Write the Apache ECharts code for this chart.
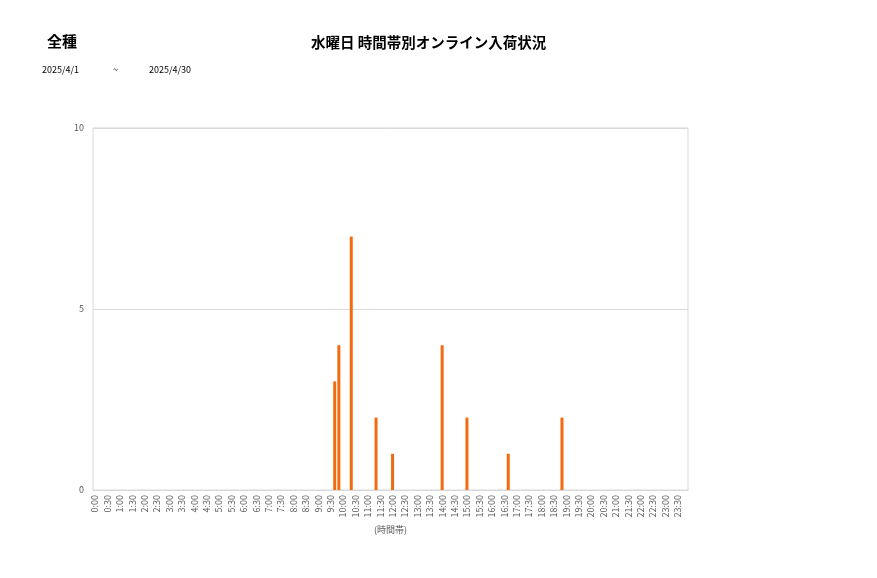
<!DOCTYPE html>
<html>
<head>
<meta charset="utf-8">
<script src="https://cdn.jsdelivr.net/npm/echarts@6/dist/echarts.min.js"></script>
<style>
html,body{margin:0;padding:0;background:#fff;}
#c{width:877px;height:578px;}
</style>
</head>
<body>
<div id="c"></div>
<script>
// Text
const chartTitle = '水曜日 時間帯別オンライン入荷状況';
const kindLabel = '全種';
const dateFrom = '2025/4/1';
const dateSep = '~';
const dateTo = '2025/4/30';
const xAxisName = '(時間帯)';

// 10-minute categories, 0:00 .. 23:50
const timeSlots = [];
for (let h = 0; h < 24; h++) {
  for (let m = 0; m < 60; m += 10) {
    timeSlots.push(h + ':' + (m === 0 ? '00' : String(m)));
  }
}

// counts per 10-minute slot (12 per row = 2 hours)
const counts = [
  0,0,0,0,0,0,0,0,0,0,0,0,   // 0:00-1:50
  0,0,0,0,0,0,0,0,0,0,0,0,   // 2:00-3:50
  0,0,0,0,0,0,0,0,0,0,0,0,   // 4:00-5:50
  0,0,0,0,0,0,0,0,0,0,0,0,   // 6:00-7:50
  0,0,0,0,0,0,0,0,0,0,3,4,   // 8:00-9:50
  0,0,7,0,0,0,0,0,2,0,0,0,   // 10:00-11:50
  1,0,0,0,0,0,0,0,0,0,0,0,   // 12:00-13:50
  4,0,0,0,0,0,2,0,0,0,0,0,   // 14:00-15:50
  0,0,0,0,1,0,0,0,0,0,0,0,   // 16:00-17:50
  0,0,0,0,0,2,0,0,0,0,0,0,   // 18:00-19:50
  0,0,0,0,0,0,0,0,0,0,0,0,   // 20:00-21:50
  0,0,0,0,0,0,0,0,0,0,0,0    // 22:00-23:50
];

const yMin = 0, yMax = 10, yStep = 5;

const chart = echarts.init(document.getElementById('c'));
const jp = '"Noto Sans CJK JP", "Noto Sans", sans-serif';
chart.setOption({
  backgroundColor: '#ffffff',
  animation: false,
  textStyle: { fontFamily: jp },
  graphic: [
    { type: 'text', left: 311, top: 35, style: { text: chartTitle, font: 'bold 14.5px ' + jp, fill: '#000' } },
    { type: 'text', left: 47, top: 34, style: { text: kindLabel, font: 'bold 15px ' + jp, fill: '#000' } },
    { type: 'text', left: 42, top: 65, style: { text: dateFrom, font: '9px ' + jp, fill: '#000' } },
    { type: 'text', left: 113, top: 65, style: { text: dateSep, font: '9px ' + jp, fill: '#000' } },
    { type: 'text', left: 149, top: 65, style: { text: dateTo, font: '9px ' + jp, fill: '#000' } }
  ],
  grid: {
    left: 93, right: 189, top: 128, bottom: 88,
    show: true, borderColor: '#d9d9d9', borderWidth: 1
  },
  xAxis: {
    type: 'category',
    data: timeSlots,
    name: xAxisName,
    nameLocation: 'middle',
    nameGap: 35,
    nameTextStyle: { fontSize: 9, color: '#595959' },
    axisLine: { show: true, lineStyle: { color: '#d9d9d9' } },
    axisTick: { show: false },
    axisLabel: { interval: 2, rotate: 90, fontSize: 9, color: '#595959', margin: 5 },
    splitLine: { show: false }
  },
  yAxis: {
    type: 'value',
    min: yMin, max: yMax, interval: yStep,
    axisLine: { show: false },
    axisTick: { show: false },
    axisLabel: { fontSize: 9, color: '#595959', margin: 9 },
    splitLine: { show: true, lineStyle: { color: '#d9d9d9' } }
  },
  series: [{
    type: 'bar',
    data: counts,
    barWidth: 3,
    itemStyle: { color: '#f26b10' }
  }]
});
</script>
</body>
</html>
